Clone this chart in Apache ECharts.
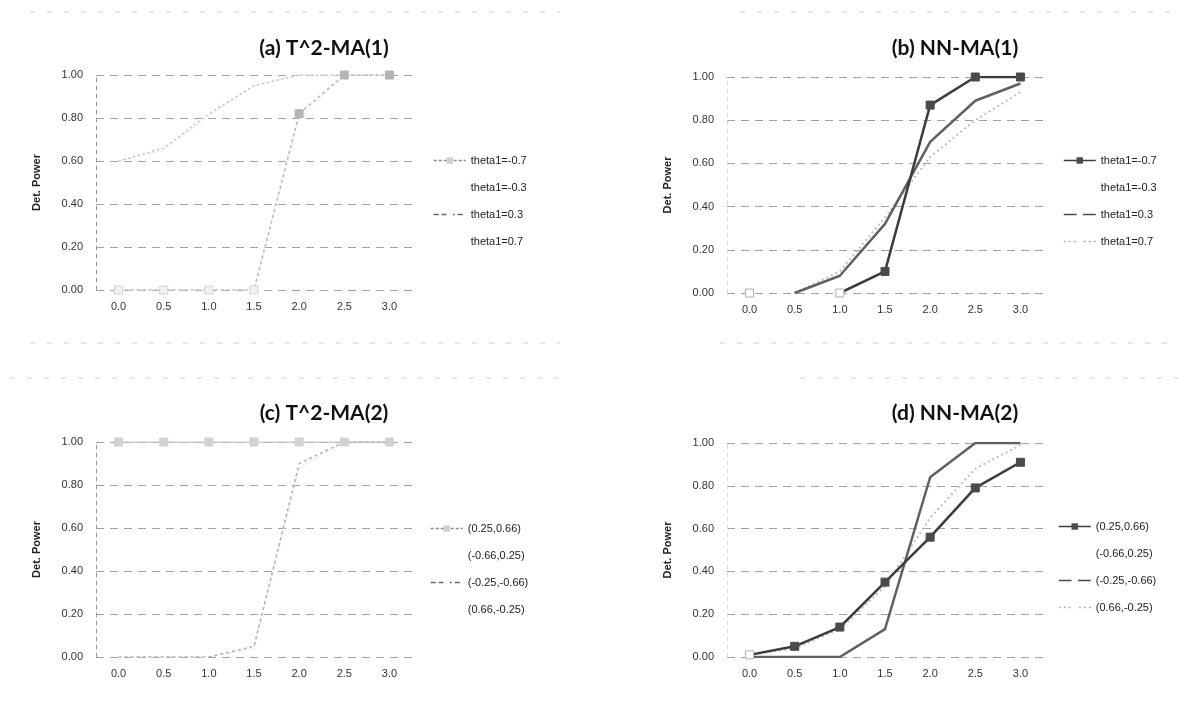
<!DOCTYPE html>
<html>
<head>
<meta charset="utf-8">
<title>Det. Power</title>
<script src="https://cdn.jsdelivr.net/npm/echarts@6/dist/echarts.min.js"></script>
<style>
  html, body { margin: 0; padding: 0; background: #ffffff; }
  #chart { width: 1178px; height: 702px; }
</style>
</head>
<body>
<div id="chart"></div>
<script>
// Categories (shift size) and y tick labels
const xLabels = ['0.0', '0.5', '1.0', '1.5', '2.0', '2.5', '3.0'];
const yTickLabels = ['0.00', '0.20', '0.40', '0.60', '0.80', '1.00'];

// Series names
const thetaNames = ['theta1=-0.7', 'theta1=-0.3', 'theta1=0.3', 'theta1=0.7'];
const pairNames = ['(0.25,0.66)', '(-0.66,0.25)', '(-0.25,-0.66)', '(0.66,-0.25)'];

// (a) T^2-MA(1)
const t2ma1_m07 = [0.00, 0.00, 0.00, 0.00, 0.82, 1.00, 1.00];
const t2ma1_m03 = [0.00, 0.00, 0.00, 0.00, 0.80, 1.00, 1.00];
const t2ma1_p03 = [0.60, 0.66, 0.82, 0.95, 1.00, 1.00, 1.00];
const t2ma1_p07 = [0.60, 0.65, 0.81, 0.95, 1.00, 1.00, 1.00];

// (b) NN-MA(1)
const nnma1_m07 = [0.00, null, 0.00, 0.10, 0.87, 1.00, 1.00];
const nnma1_m03 = [0.00, null, 0.00, 0.10, 0.86, 1.00, 1.00];
const nnma1_p03 = [null, 0.00, 0.08, 0.32, 0.70, 0.89, 0.97];
const nnma1_p07 = [null, 0.00, 0.10, 0.35, 0.63, 0.80, 0.93];

// (c) T^2-MA(2)
const t2ma2_a = [1.00, 1.00, 1.00, 1.00, 1.00, 1.00, 1.00];
const t2ma2_b = [1.00, 1.00, 1.00, 1.00, 1.00, 1.00, 1.00];
const t2ma2_c = [0.00, 0.00, 0.00, 0.05, 0.90, 1.00, 1.00];
const t2ma2_d = [0.00, 0.00, 0.00, 0.04, 0.88, 1.00, 1.00];

// (d) NN-MA(2)
const nnma2_a = [0.01, 0.05, 0.14, 0.35, 0.56, 0.79, 0.91];
const nnma2_b = [0.01, 0.05, 0.14, 0.34, 0.57, 0.80, 0.92];
const nnma2_c = [0.00, 0.00, 0.00, 0.13, 0.84, 1.00, 1.00];
const nnma2_d = [0.01, 0.04, 0.13, 0.33, 0.65, 0.88, 0.99];

const chart = echarts.init(document.getElementById('chart'), null, { renderer: 'canvas' });

const baseFont = 'Liberation Sans, Arial, sans-serif';
const titleFont = 'Lato, Open Sans, sans-serif';

// Plot rectangles
const grids = [
  { left: 96,  top: 75,  width: 316, height: 215 },
  { left: 727, top: 77,  width: 316, height: 216 },
  { left: 96,  top: 442, width: 316, height: 215 },
  { left: 727, top: 443, width: 316, height: 214 }
];

function xAxisFor(i) {
  return {
    type: 'category', gridIndex: i, data: xLabels, boundaryGap: true,
    axisLine: { show: false }, axisTick: { show: false },
    axisLabel: { color: '#333', fontSize: 11, fontFamily: baseFont, margin: 11 }
  };
}

function yAxisFor(i, faint) {
  return {
    type: 'value', gridIndex: i, min: 0, max: 1, interval: 0.2,
    name: 'Det. Power', nameLocation: 'middle', nameGap: 54, nameRotate: 90,
    nameTextStyle: { color: '#222', fontSize: 11, fontWeight: 'bold', fontFamily: baseFont },
    axisLine: { show: true, lineStyle: { color: faint ? '#dadada' : '#9a9a9a', type: [4, 4] } },
    axisTick: { show: false },
    axisLabel: {
      color: '#333', fontSize: 11, fontFamily: baseFont, margin: 13,
      formatter: v => yTickLabels[Math.round(v / 0.2)]
    },
    splitLine: { show: true, lineStyle: { color: '#a2a2a2', width: 1, type: [8, 6] } }
  };
}

// Points that sit on the zero line are drawn as pale outlined squares
function withPaleZeroPoints(values, paleFill, paleBorder) {
  return values.map(v => (v !== null && v < 0.02)
    ? { value: v, itemStyle: { color: paleFill, borderColor: paleBorder, borderWidth: 1 } }
    : v);
}

function line(name, idx, data, color, type, width, symbol, symColor, z, symSize) {
  return {
    type: 'line', name: name, xAxisIndex: idx, yAxisIndex: idx, data: data,
    lineStyle: { color: color, width: width, type: type },
    itemStyle: { color: symColor || color, borderColor: symColor || color },
    symbol: symbol || 'none', symbolSize: symSize || 8, showSymbol: !!symbol,
    connectNulls: false, animation: false, z: z || 2
  };
}

const series = [
  // (a)
  line(thetaNames[1], 0, t2ma1_m03, '#f0f0f0', 'solid', 1, null, null, 1),
  line(thetaNames[3], 0, t2ma1_p07, '#ececec', 'solid', 1, null, null, 1),
  line(thetaNames[0], 0, withPaleZeroPoints(t2ma1_m07, '#f2f2f2', '#d4d4d4'), '#b8b8b8', [3, 3], 1.5, 'rect', '#b4b4b4', 3, 8),
  line(thetaNames[2], 0, t2ma1_p03, '#c2c2c2', [2, 3], 1.5, null, null, 3),
  // (b)
  line(thetaNames[1], 1, nnma1_m03, '#f0f0f0', 'solid', 1, null, null, 1),
  line(thetaNames[3], 1, nnma1_p07, '#c0c0c0', [2, 3], 2, null, null, 2),
  line(thetaNames[2], 1, nnma1_p03, '#606060', 'solid', 2.5, null, null, 3),
  line(thetaNames[0], 1, withPaleZeroPoints(nnma1_m07, '#ffffff', '#b0b0b0'), '#3c3c3c', 'solid', 2.5, 'rect', '#4a4a4a', 4),
  // (c)
  line(pairNames[1], 2, t2ma2_b, '#f0f0f0', 'solid', 1, null, null, 1),
  line(pairNames[3], 2, t2ma2_d, '#ececec', 'solid', 1, null, null, 1),
  line(pairNames[0], 2, t2ma2_a, '#a6a6a6', 'solid', 1.2, 'rect', '#d2d2d2', 3, 8),
  line(pairNames[2], 2, t2ma2_c, '#b0b0b0', [3, 3], 1.5, null, null, 3),
  // (d)
  line(pairNames[1], 3, nnma2_b, '#f0f0f0', 'solid', 1, null, null, 1),
  line(pairNames[3], 3, nnma2_d, '#c0c0c0', [2, 3], 2, null, null, 2),
  line(pairNames[2], 3, nnma2_c, '#606060', 'solid', 2.5, null, null, 3),
  line(pairNames[0], 3, withPaleZeroPoints(nnma2_a, '#ffffff', '#b0b0b0'), '#3c3c3c', 'solid', 2.5, 'rect', '#4a4a4a', 4)
];

function legendItem(name, color, type, symColor) {
  return {
    name: name,
    lineStyle: { color: color, type: type, width: 1.5 },
    itemStyle: { color: symColor || color, borderColor: symColor || color }
  };
}

function legendFor(left, top, items) {
  return {
    orient: 'vertical', left: left, top: top, itemGap: 16,
    itemWidth: 32, itemHeight: 8, itemTextGap: 4, selectedMode: false,
    textStyle: { color: '#222', fontSize: 11, fontFamily: baseFont },
    data: items
  };
}

const legends = [
  legendFor(428, 150, [
    legendItem(thetaNames[0], '#8a8a8a', [3, 2], '#d0d0d0'),
    legendItem(thetaNames[1], '#ffffff', 'solid', '#ffffff'),
    legendItem(thetaNames[2], '#666666', [5, 3], '#ffffff'),
    legendItem(thetaNames[3], '#ffffff', 'solid', '#ffffff')
  ]),
  legendFor(1058, 150, [
    legendItem(thetaNames[0], '#3c3c3c', 'solid', '#4a4a4a'),
    legendItem(thetaNames[1], '#ffffff', 'solid', '#ffffff'),
    legendItem(thetaNames[2], '#4a4a4a', 'solid', '#ffffff'),
    legendItem(thetaNames[3], '#b0b0b0', [2, 3], '#ffffff')
  ]),
  legendFor(425, 518, [
    legendItem(pairNames[0], '#8a8a8a', [3, 2], '#d0d0d0'),
    legendItem(pairNames[1], '#ffffff', 'solid', '#ffffff'),
    legendItem(pairNames[2], '#666666', [5, 3], '#ffffff'),
    legendItem(pairNames[3], '#ffffff', 'solid', '#ffffff')
  ]),
  legendFor(1053, 516, [
    legendItem(pairNames[0], '#3c3c3c', 'solid', '#4a4a4a'),
    legendItem(pairNames[1], '#ffffff', 'solid', '#ffffff'),
    legendItem(pairNames[2], '#4a4a4a', 'solid', '#ffffff'),
    legendItem(pairNames[3], '#b0b0b0', [2, 3], '#ffffff')
  ])
];

function titleFor(text, x, y) {
  return {
    text: text, left: x, top: y, textAlign: 'center',
    textStyle: { color: '#111', fontSize: 21, fontWeight: 'bold', fontFamily: titleFont }
  };
}

// Faint chart-area borders of the four panels
function border(x1, y1, x2, y2) {
  return {
    type: 'line', silent: true,
    shape: { x1: x1, y1: y1, x2: x2, y2: y2 },
    style: { stroke: '#cfcfcf', lineWidth: 1, lineDash: [5, 12] }
  };
}

chart.setOption({
  backgroundColor: '#ffffff',
  animation: false,
  title: [
    titleFor('(a) T^2-MA(1)', 319, 33),
    titleFor('(b) NN-MA(1)', 950, 33),
    titleFor('(c) T^2-MA(2)', 319, 398),
    titleFor('(d) NN-MA(2)', 950, 398)
  ],
  legend: legends,
  grid: grids,
  xAxis: [xAxisFor(0), xAxisFor(1), xAxisFor(2), xAxisFor(3)],
  yAxis: [yAxisFor(0, false), yAxisFor(1, true), yAxisFor(2, false), yAxisFor(3, true)],
  series: series,
  graphic: [
    border(30, 12, 560, 12), border(740, 12, 1178, 12),
    border(30, 343, 560, 343), border(720, 343, 1178, 343),
    border(10, 378, 560, 378), border(800, 378, 1178, 378)
  ]
});
</script>
</body>
</html>
